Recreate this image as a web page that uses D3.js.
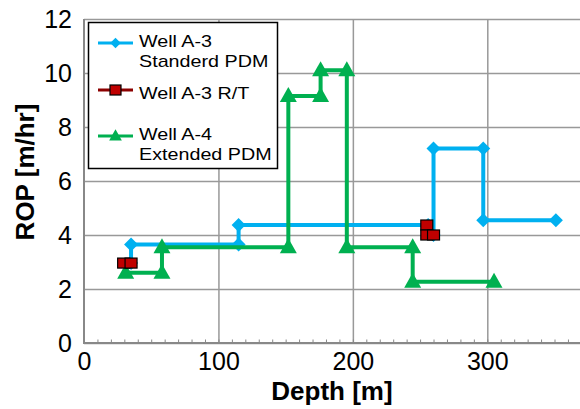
<!DOCTYPE html>
<html lang="en">
<head>
  <meta charset="UTF-8">
  <title>ROP vs Depth</title>
  <script src="https://d3js.org/d3.v7.min.js"></script>
  <style>
    body { margin: 0; background: #fff; }
    svg text { font-family: "Liberation Sans", Arial, sans-serif; fill: #000; }
  </style>
</head>
<body>
  <div id="chart"></div>

  <script>
    // Well A-3 Standard PDM
    const depthA3 = [35, 35, 115, 115, 256, 260, 260, 297, 297, 351];
    const ropA3 = [2.96, 3.65, 3.65, 4.37, 4.37, 4.0, 7.2, 7.2, 4.55, 4.55];

    // Well A-3 R/T (two separate runs)
    const depthRT = [29.5, 35, 255, 255, 260];
    const ropRT = [2.96, 2.96, 4.37, 4.0, 4.0];
    const runRT = [0, 0, 1, 1, 1];

    // Well A-4 Extended PDM
    const depthA4 = [31, 58, 58, 152, 152, 176, 176, 195.5, 195.5, 244.5, 244.5, 305];
    const ropA4 = [2.6, 2.6, 3.55, 3.55, 9.15, 9.15, 10.1, 10.1, 3.55, 3.55, 2.27, 2.27];

    const yTicks = [0, 2, 4, 6, 8, 10, 12];
    const xTicks = [0, 100, 200, 300];

    const width = 580, height = 409;
    const x = d3.scaleLinear().domain([0, 370]).range([84, 581.4]);
    const y = d3.scaleLinear().domain([0, 12]).range([343, 19]);

    const blue = "#00b0f0", red = "#c00000", green = "#00b050";

    const svg = d3.select("#chart").append("svg")
      .attr("width", width)
      .attr("height", height);

    // grid
    svg.append("g")
      .attr("transform", "translate(84,0)")
      .call(d3.axisLeft(y).tickValues(yTicks).tickSize(-(581.4 - 84)).tickFormat(""))
      .call(g => g.select(".domain").remove())
      .call(g => g.selectAll("line").attr("stroke", "#999").attr("stroke-width", 1.5));

    svg.append("g")
      .attr("transform", "translate(0,343)")
      .call(d3.axisBottom(x).tickValues(xTicks.slice(1)).tickSize(-(343 - 19)).tickFormat(""))
      .call(g => g.select(".domain").remove())
      .call(g => g.selectAll("line").attr("stroke", "#999").attr("stroke-width", 1.5));

    // minor ticks on x axis
    svg.append("g")
      .attr("transform", "translate(0,343)")
      .call(d3.axisBottom(x).tickValues(d3.range(0, 371, 10)).tickSize(-3.5).tickFormat(""))
      .call(g => g.select(".domain").remove())
      .call(g => g.selectAll("line").attr("stroke", "#888").attr("stroke-width", 1));

    // axis lines
    svg.append("line")
      .attr("x1", x(0)).attr("x2", x(0)).attr("y1", y(12)).attr("y2", y(0))
      .attr("stroke", "#888").attr("stroke-width", 2);
    svg.append("line")
      .attr("x1", x(0) - 1).attr("x2", x(370)).attr("y1", y(0)).attr("y2", y(0))
      .attr("stroke", "#888").attr("stroke-width", 2);

    // tick labels
    svg.append("g")
      .attr("transform", "translate(84,0)")
      .call(d3.axisLeft(y).tickValues(yTicks).tickSize(0).tickPadding(12))
      .call(g => g.select(".domain").remove())
      .call(g => g.selectAll("text")
        .attr("font-size", 25).attr("fill", "#000")
        .attr("font-family", "Liberation Sans, Arial, sans-serif"));

    svg.append("g")
      .attr("transform", "translate(0,343)")
      .call(d3.axisBottom(x).tickValues(xTicks).tickSize(0).tickPadding(9))
      .call(g => g.select(".domain").remove())
      .call(g => g.selectAll("text")
        .attr("font-size", 25).attr("fill", "#000")
        .attr("font-family", "Liberation Sans, Arial, sans-serif"));

    // axis titles
    svg.append("text")
      .attr("x", 332)
      .attr("y", 400)
      .attr("text-anchor", "middle")
      .attr("font-size", 26)
      .attr("font-weight", "bold")
      .text("Depth [m]");

    svg.append("text")
      .attr("transform", "translate(34,172) rotate(-90)")
      .attr("text-anchor", "middle")
      .attr("font-size", 26)
      .attr("font-weight", "bold")
      .text("ROP [m/hr]");

    const line = d3.line().x(d => x(d[0])).y(d => y(d[1]));

    const diamond = "M0,-7L7,0L0,7L-7,0Z";
    const triangle = "M0,-9L8.5,6L-8.5,6Z";

    const a3 = depthA3.map((d, i) => [d, ropA3[i]]);
    const a4 = depthA4.map((d, i) => [d, ropA4[i]]);
    const rt = depthRT.map((d, i) => [d, ropRT[i], runRT[i]]);

    // Well A-3 Standard PDM
    svg.append("path").datum(a3)
      .attr("d", line).attr("fill", "none")
      .attr("stroke", blue).attr("stroke-width", 4);
    svg.selectAll(".mA3").data(a3).enter().append("path")
      .attr("class", "mA3")
      .attr("transform", d => "translate(" + x(d[0]) + "," + y(d[1]) + ")")
      .attr("d", diamond).attr("fill", blue);

    // Well A-4 Extended PDM
    svg.append("path").datum(a4)
      .attr("d", line).attr("fill", "none")
      .attr("stroke", green).attr("stroke-width", 4);
    svg.selectAll(".mA4").data(a4).enter().append("path")
      .attr("class", "mA4")
      .attr("transform", d => "translate(" + x(d[0]) + "," + y(d[1]) + ")")
      .attr("d", triangle).attr("fill", green);

    // Well A-3 R/T
    d3.groups(rt, d => d[2]).forEach(([, pts]) => {
      svg.append("path").datum(pts)
        .attr("d", line).attr("fill", "none")
        .attr("stroke", red).attr("stroke-width", 3);
    });
    svg.selectAll(".mRT").data(rt).enter().append("rect")
      .attr("class", "mRT")
      .attr("x", d => x(d[0]) - 6).attr("y", d => y(d[1]) - 5)
      .attr("width", 12).attr("height", 10)
      .attr("fill", red).attr("stroke", "#000").attr("stroke-width", 1.2);

    // legend
    const legend = svg.append("g");
    legend.append("rect")
      .attr("x", 88.5).attr("y", 22.5).attr("width", 189).attr("height", 146)
      .attr("fill", "#fff").attr("stroke", "#000").attr("stroke-width", 1.5);

    const entries = [
      { color: blue, marker: "diamond", ly: 43, lines: ["Well A-3", "Standerd PDM"], ty: 47 },
      { color: "#8b0000", marker: "square", ly: 90, lines: ["Well A-3 R/T"], ty: 99 },
      { color: green, marker: "triangle", ly: 136, lines: ["Well A-4", "Extended PDM"], ty: 140 }
    ];

    entries.forEach(e => {
      legend.append("line")
        .attr("x1", 98).attr("x2", 133).attr("y1", e.ly).attr("y2", e.ly)
        .attr("stroke", e.color).attr("stroke-width", 3);
      if (e.marker === "square") {
        legend.append("rect")
          .attr("x", 110).attr("y", e.ly - 5).attr("width", 11).attr("height", 10)
          .attr("fill", red).attr("stroke", "#000").attr("stroke-width", 1.2);
      } else {
        legend.append("path")
          .attr("transform", "translate(115.5," + e.ly + ") scale(0.75)")
          .attr("d", e.marker === "diamond" ? diamond : triangle)
          .attr("fill", e.color);
      }
      // reference text is slightly stretched horizontally
      e.lines.forEach((s, i) => {
        legend.append("text")
          .attr("transform", "translate(139," + (e.ty + i * 19.5) + ") scale(1.16,1)")
          .attr("font-size", 17)
          .text(s);
      });
    });
  </script>
</body>
</html>
